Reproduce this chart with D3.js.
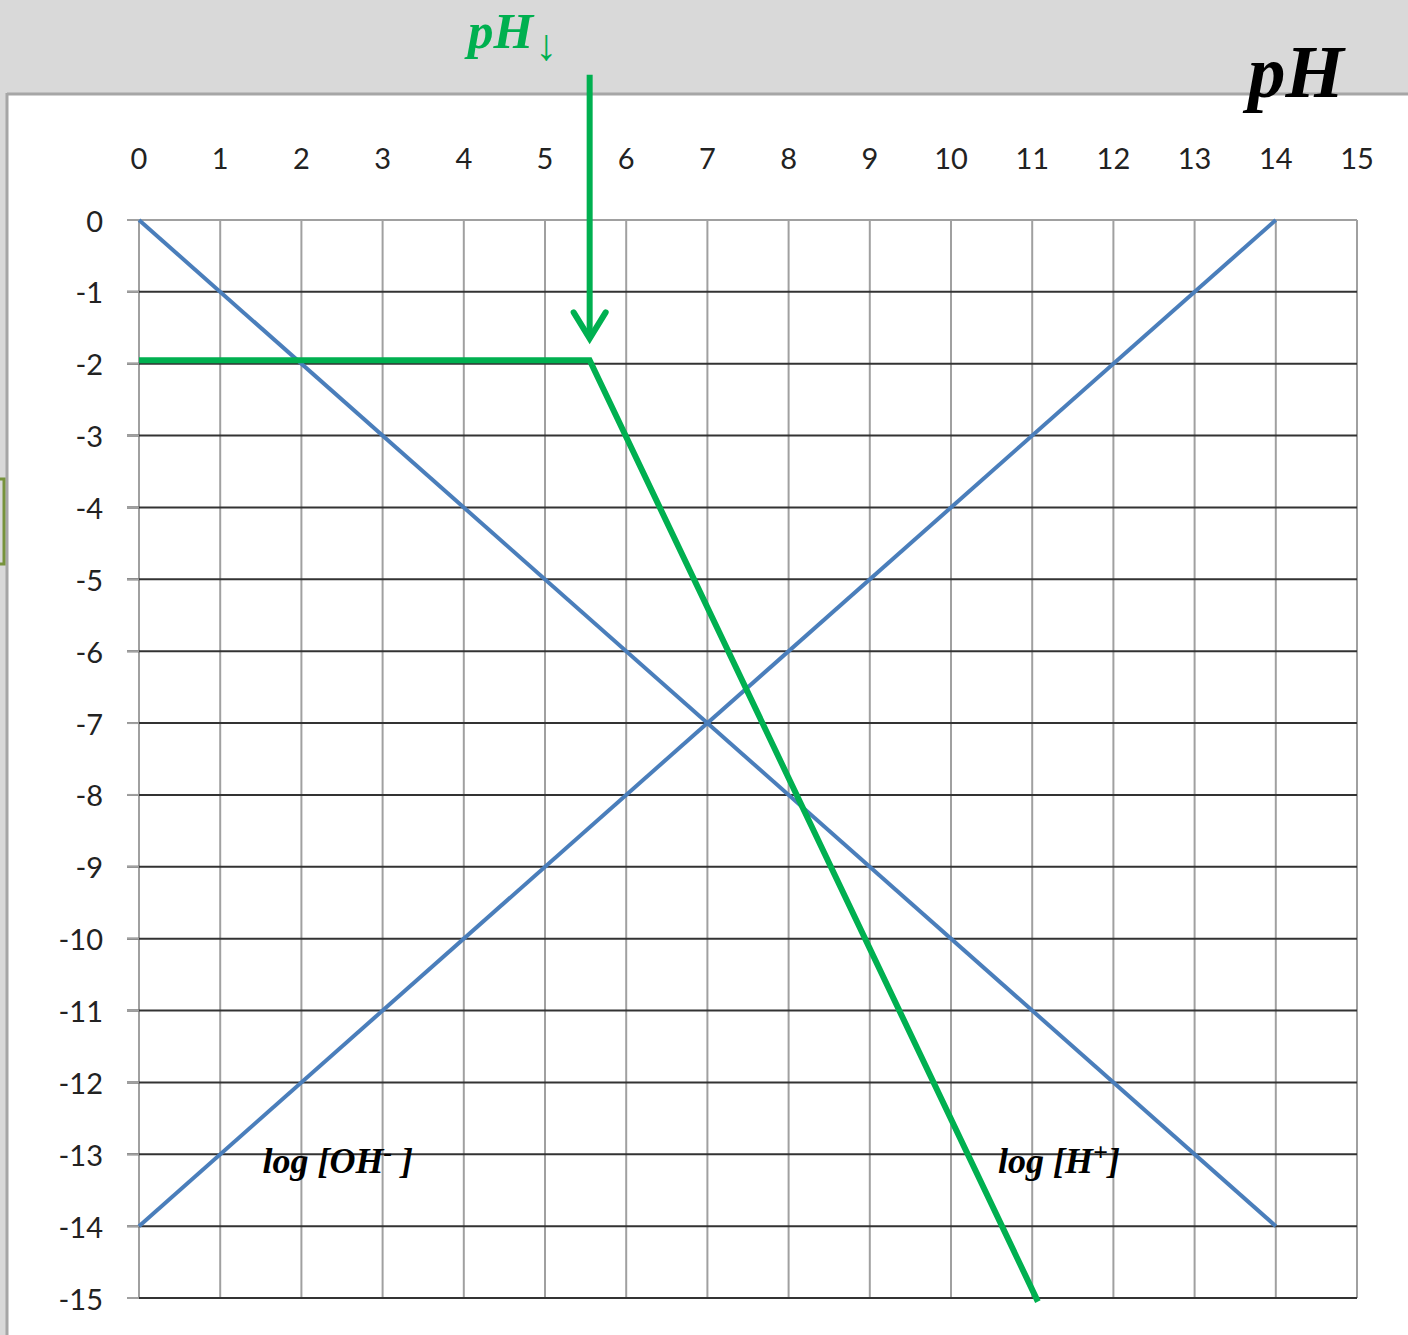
<!DOCTYPE html>
<html>
<head>
<meta charset="utf-8">
<script src="https://cdn.jsdelivr.net/npm/d3@7"></script>
<style>
  body { margin: 0; background: #ffffff; }
  svg { display: block; }
</style>
</head>
<body>
<svg id="chart" width="1408" height="1335"></svg>
<script>
// data: log concentration lines vs pH
const xTicks = d3.range(0, 16);
const yTicks = d3.range(0, -16, -1);
const ohLine = [[0, -14], [14, 0]];      // log [OH-]
const hLine = [[0, 0], [14, -14]];       // log [H+]
const greenLine = [[0, -1.95], [5.55, -1.95], [11.07, -15.05]];
const arrowX = 5.55;
const arrowY = [2.02, -1.62];
const labels = [
  { text: "log [OH", sup: "-", tail: " ]", x: 1.52, y: -13.1 },
  { text: "log [H", sup: "+", tail: "]", x: 10.58, y: -13.1 }
];

var svg = d3.select("#chart");
const width = +svg.attr("width");
const height = +svg.attr("height");

const blue = "#4a7ebb";
const green = "#00b050";

// scales, x = 0..15, y = 0..-15
const x = d3.scaleLinear().domain([0, 15]).range([139, 1357]);
const y = d3.scaleLinear().domain([0, -15]).range([220, 1298]);

// window background: gray band on top and left, white sheet
svg.append("rect").attr("width", width).attr("height", height).attr("fill", "#d9d9d9");
svg.append("rect").attr("x", 8).attr("y", 94).attr("width", width - 8).attr("height", height - 94).attr("fill", "#ffffff");
svg.append("line").attr("x1", 7).attr("x2", width).attr("y1", 94).attr("y2", 94)
    .attr("stroke", "#a6a6a6").attr("stroke-width", 3);
svg.append("line").attr("x1", 7).attr("x2", 7).attr("y1", 93).attr("y2", height)
    .attr("stroke", "#a6a6a6").attr("stroke-width", 3);

// little green bracket on the left edge
svg.append("rect").attr("x", -4).attr("y", 479).attr("width", 8).attr("height", 85)
    .attr("fill", "none").attr("stroke", "#77933c").attr("stroke-width", 3);

// vertical grid
svg.append("g").selectAll("line").data(xTicks).enter().append("line")
    .attr("x1", d => x(d)).attr("x2", d => x(d))
    .attr("y1", y(0)).attr("y2", y(-15))
    .attr("stroke", "#a0a0a0").attr("stroke-width", 2);

// horizontal grid (top one lighter)
svg.append("g").selectAll("line").data(yTicks).enter().append("line")
    .attr("x1", x(0) - 12).attr("x2", x(15))
    .attr("y1", d => y(d)).attr("y2", d => y(d))
    .attr("stroke", d => d === 0 ? "#a0a0a0" : "#333333").attr("stroke-width", 2);
// gray tick stubs on the left
svg.append("g").selectAll("line").data(yTicks).enter().append("line")
    .attr("x1", x(0) - 12).attr("x2", x(0))
    .attr("y1", d => y(d)).attr("y2", d => y(d))
    .attr("stroke", "#a0a0a0").attr("stroke-width", 2);

// tick labels, top and left
svg.append("g").selectAll("text").data(xTicks).enter().append("text")
    .attr("x", d => x(d)).attr("y", 157)
    .attr("text-anchor", "middle").attr("dominant-baseline", "central")
    .style("font-family", "Lato, 'Noto Sans', sans-serif").style("font-size", "29px")
    .attr("fill", "#222")
    .text(d => d);

svg.append("g").selectAll("text").data(yTicks).enter().append("text")
    .attr("x", 103).attr("y", d => y(d))
    .attr("text-anchor", "end").attr("dominant-baseline", "central")
    .style("font-family", "Lato, 'Noto Sans', sans-serif").style("font-size", "29px")
    .attr("fill", "#222")
    .text(d => d);

const line = d3.line().x(d => x(d[0])).y(d => y(d[1]));

// blue lines
[ohLine, hLine].forEach(pts => {
    svg.append("path").attr("d", line(pts))
        .attr("fill", "none").attr("stroke", blue).attr("stroke-width", 4);
});

// green curve
svg.append("path").attr("d", line(greenLine))
    .attr("fill", "none").attr("stroke", green).attr("stroke-width", 6)
    .attr("stroke-linejoin", "miter");

// green arrow pointing at the break
svg.append("line")
    .attr("x1", x(arrowX)).attr("x2", x(arrowX))
    .attr("y1", y(arrowY[0])).attr("y2", y(arrowY[1]))
    .attr("stroke", green).attr("stroke-width", 6);
svg.append("path")
    .attr("d", d3.line()([[x(arrowX) - 16, y(arrowY[1]) - 24], [x(arrowX), y(arrowY[1]) + 2], [x(arrowX) + 16, y(arrowY[1]) - 24]]))
    .attr("fill", "none").attr("stroke", green).attr("stroke-width", 6)
    .attr("stroke-linecap", "round").attr("stroke-linejoin", "miter");

// line labels
labels.forEach(l => {
    const t = svg.append("text")
        .attr("x", x(l.x)).attr("y", y(l.y))
        .attr("dominant-baseline", "central")
        .style("font-family", "'Liberation Serif', 'DejaVu Serif', serif")
        .style("font-size", "36px").style("font-weight", "bold").style("font-style", "italic")
        .attr("fill", "#000");
    t.append("tspan").text(l.text);
    t.append("tspan").attr("dy", -9).style("font-size", "26px").text(l.sup);
    t.append("tspan").attr("dy", 9).text(l.tail);
});

// pH titles
svg.append("text")
    .attr("x", 1248).attr("y", 97)
    .style("font-family", "'Liberation Serif', 'DejaVu Serif', serif")
    .style("font-size", "75px").style("font-weight", "bold").style("font-style", "italic")
    .attr("fill", "#000")
    .text("pH");

const g = svg.append("text")
    .attr("x", 468).attr("y", 48)
    .style("font-family", "'Liberation Serif', 'DejaVu Serif', serif")
    .style("font-size", "51px").style("font-weight", "bold").style("font-style", "italic")
    .attr("fill", green);
g.append("tspan").text("pH");
g.append("tspan").attr("dy", 12).attr("dx", 2)
    .style("font-size", "44px").style("font-weight", "normal").style("font-style", "normal")
    .text("↓");
</script>
</body>
</html>
